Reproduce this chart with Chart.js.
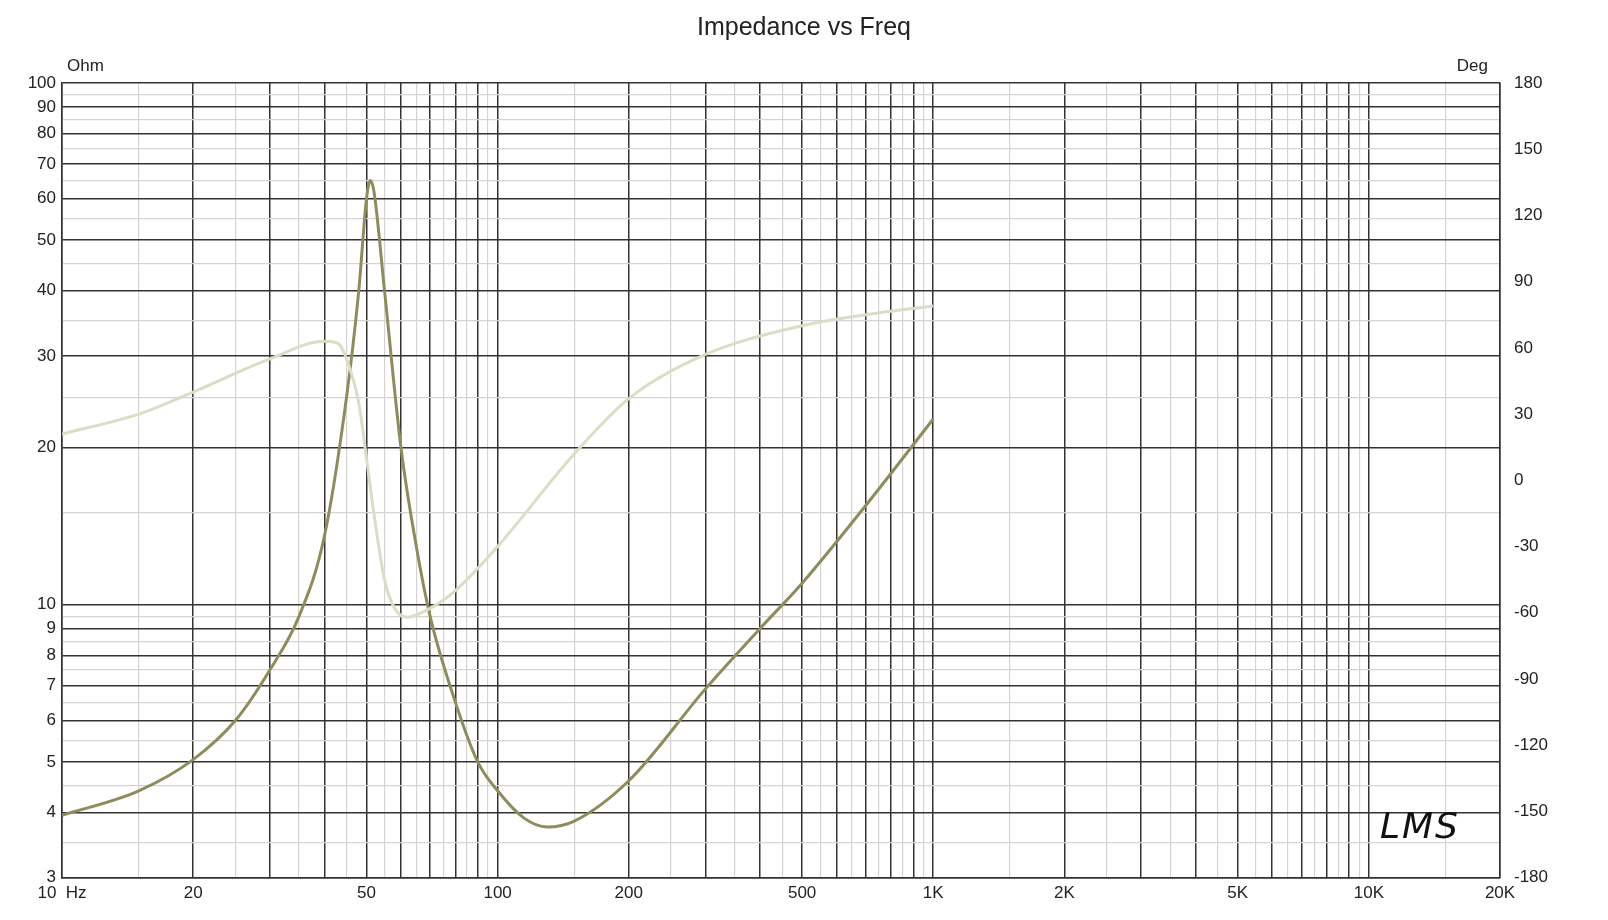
<!DOCTYPE html>
<html><head><meta charset="utf-8">
<script src="https://cdn.jsdelivr.net/npm/chart.js@4"></script>
<style>body{margin:0;background:#fff}#w{position:relative;width:1608px;height:920px}</style>
</head><body><div id="w"><canvas id="c" width="1608" height="920"></canvas>
<div style="position:absolute;left:1380px;top:805px;font:italic 36px 'DejaVu Sans';color:#111;letter-spacing:2px">LMS</div></div>
<script>
const freqs = [10,15,20,25,30,35,40,45,48,50,51,52,55,60,65,70,80,90,100,115,130,150,200,300,400,500,700,1000];
const impedance = [3.95,4.4,5.05,6.0,7.5,9.5,13.5,25,40,60,65,62,40,20,13,9.5,6.5,5,4.4,3.9,3.75,3.85,4.6,6.9,9.0,11.0,15.5,22.7];
const phaseFreqs = [10,15,20,30,40,43,45,48,50,52,55,58,62,70,80,100,150,200,300,500,700,1000];
const phase = [21,30,40,55,63,62,55,35,10,-15,-45,-58,-62,-58,-50,-30,12,37,57,70,75,79];
const xMajor = ['10  Hz','20','50','100','200','500','1K','2K','5K','10K','20K'];
const xMajorVals = [10,20,50,100,200,500,1000,2000,5000,10000,20000];
const yLabels = [3,4,5,6,7,8,9,10,20,30,40,50,60,70,80,90,100];

function logTicks(min,max){const t=[];for(let d=1;d<=10000;d*=10){for(let n=1;n<10;n+=0.5){const v=n*d;if(v>=min-1e-9&&v<=max+1e-9)t.push({value:v,major:Number.isInteger(n)});}}if(!t.find(o=>o.value===max))t.push({value:max,major:true});return t;}

new Chart(document.getElementById('c'),{
 type:'line',
 data:{datasets:[
  {data:phaseFreqs.map((f,i)=>({x:f,y:phase[i]})),yAxisID:'y2',borderColor:'#dedbc6',borderWidth:3,pointRadius:0,tension:0.4,cubicInterpolationMode:'monotone'},
  {data:freqs.map((f,i)=>({x:f,y:impedance[i]})),yAxisID:'y',borderColor:'#8f8c5c',borderWidth:3,pointRadius:0,tension:0.4,cubicInterpolationMode:'monotone'}
 ]},
 options:{responsive:false,animation:false,
  layout:{padding:{left:0,right:0,top:0,bottom:10}},
  plugins:{legend:{display:false},tooltip:{enabled:false},
   title:{display:true,text:'Impedance vs Freq',font:{family:'Liberation Sans',size:25,weight:'normal'},color:'#222',padding:{top:13,bottom:40}}},
  scales:{
   x:{type:'logarithmic',min:10,max:20000,
    afterBuildTicks:a=>{a.ticks=logTicks(10,20000);},
    grid:{color:c=>c.tick&&c.tick.major?'#333':'#d4d4d4',lineWidth:c=>c.tick&&c.tick.major?1.5:1.2,drawTicks:false},
    border:{color:'#333',width:1.5},
    ticks:{autoSkip:false,maxRotation:0,padding:6,color:'#222',font:{family:'Liberation Sans',size:17},
     callback:(v)=>{const i=xMajorVals.indexOf(v);return i>=0?xMajor[i]:'';}}},
   y:{type:'logarithmic',min:3,max:100,position:'left',
    afterBuildTicks:a=>{a.ticks=logTicks(3,100);},
    afterFit:a=>{a.width=62;},
    grid:{color:c=>c.tick&&c.tick.major?'#333':'#d4d4d4',lineWidth:c=>c.tick&&c.tick.major?1.5:1.2,drawTicks:false},
    border:{color:'#333',width:1.5},
    ticks:{autoSkip:false,padding:6,color:'#222',font:{family:'Liberation Sans',size:17},
     callback:v=>yLabels.includes(v)?String(v):''}},
   y2:{type:'linear',min:-180,max:180,position:'right',
    afterFit:a=>{a.width=108;},
    grid:{display:false},border:{color:'#333',width:1.5},
    ticks:{stepSize:30,padding:6,color:'#222',font:{family:'Liberation Sans',size:17}}}
  }},
 plugins:[{id:'units',afterDraw(ch){const g=ch.ctx,a=ch.chartArea;g.save();g.font='17px Liberation Sans';g.fillStyle='#222';g.textBaseline='bottom';g.textAlign='left';g.fillText('Ohm',a.left+5,a.top-8);g.textAlign='right';g.fillText('Deg',a.right-12,a.top-8);g.restore();}}]
});
</script></body></html>
